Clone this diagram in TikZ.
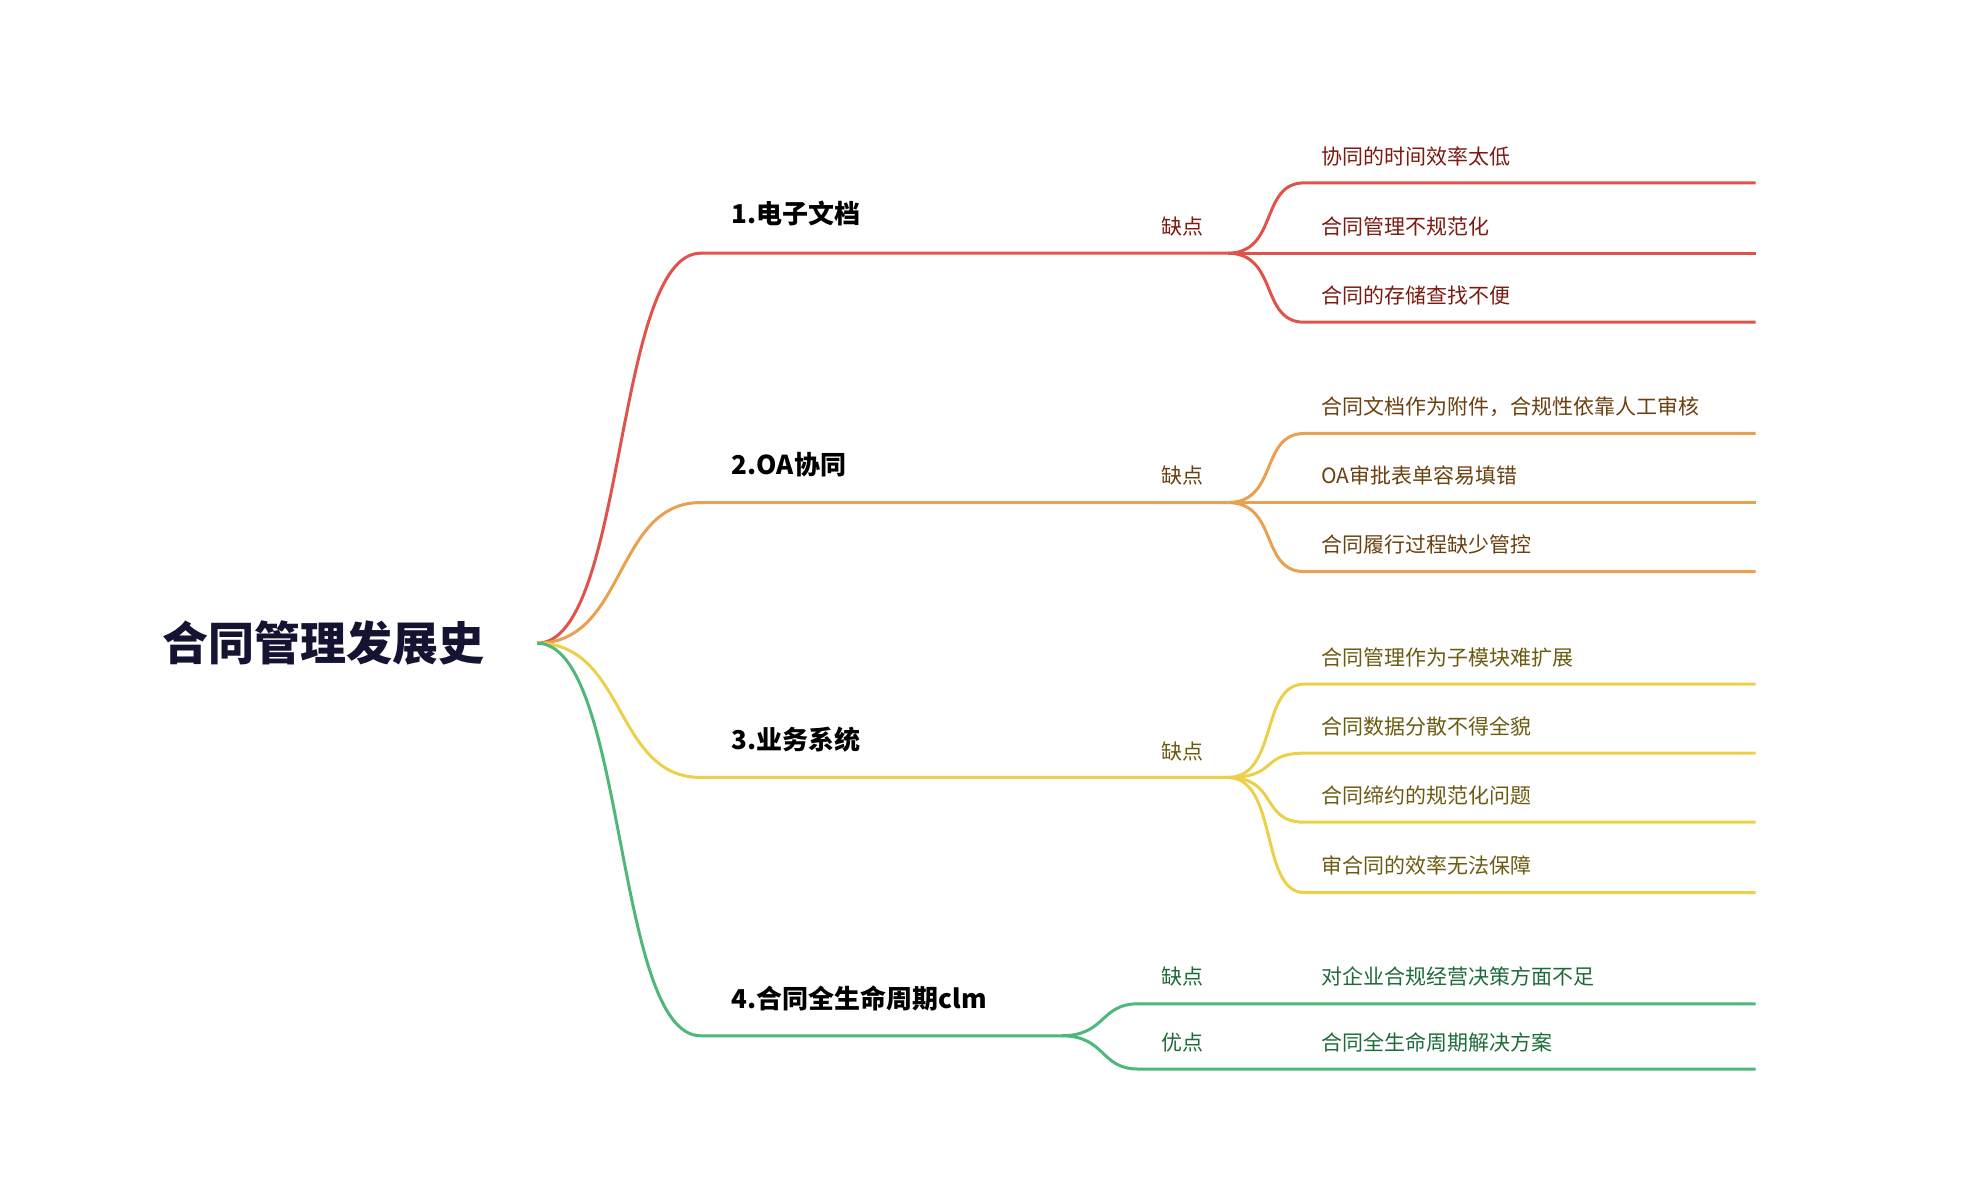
\documentclass[tikz,border=0pt]{standalone}
\usepackage{fontspec}
\setmainfont{Noto Sans CJK SC}
\begin{document}
\begin{tikzpicture}[x=0.64pt,y=-0.64pt,line width=1.5pt,
 lbl/.style={anchor=west,font=\fontsize{13}{13}\selectfont\bfseries,text=black},
 kd/.style={font=\fontsize{10.5}{10.5}\selectfont},
 lf/.style={anchor=west,font=\fontsize{10.5}{10.5}\selectfont}]
\useasboundingbox (0,0) rectangle (1550,938);
\definecolor{cR}{HTML}{E0534A}\definecolor{cO}{HTML}{E9A050}
\definecolor{cY}{HTML}{EDD04A}\definecolor{cG}{HTML}{4DB87A}
\definecolor{tR}{HTML}{7A1A10}\definecolor{tO}{HTML}{6B4010}
\definecolor{tY}{HTML}{6B5A10}\definecolor{tG}{HTML}{1E6B3A}
\node[font=\fontsize{23}{23}\selectfont\bfseries,text={rgb,255:red,20;green,20;blue,50}] (root) at (253,503) {合同管理发展史};
\coordinate (r) at (420,503);
% branches
\foreach \y/\c/\n in {198/cR/a,393/cO/b,608/cY/c}{
 \coordinate (\n s) at (548,\y); \coordinate (\n e) at (960,\y);
 \draw[\c] (r) .. controls (490,503) and (480,\y) .. (\n s) -- (\n e);}
\coordinate (ds) at (548,810); \coordinate (de) at (830,810);
\draw[cG] (r) .. controls (490,503) and (480,810) .. (ds) -- (de);
\node[lbl] (la) at (566,167) {1.电子文档};
\node[lbl] (lb) at (566,363) {2.OA协同};
\node[lbl] (lc) at (566,578) {3.业务系统};
\node[lbl] (ld) at (566,781) {4.合同全生命周期clm};
\node[kd,text=tR] (ka) at (925,177) {缺点};
\node[kd,text=tO] (kb) at (925,372) {缺点};
\node[kd,text=tY] (kc) at (925,588) {缺点};
\node[kd,text=tG] (kd1) at (925,764) {缺点};
\node[kd,text=tG] (kd2) at (925,815) {优点};
% leaves
\foreach \n/\c/\t/\ys in {a/cR/tR/{143/122/协同的时间效率太低,198/177/合同管理不规范化,252/231/合同的存储查找不便},
 b/cO/tO/{339/318/合同文档作为附件，合规性依靠人工审核,393/372/OA审批表单容易填错,447/426/合同履行过程缺少管控},
 c/cY/tY/{535/514/合同管理作为子模块难扩展,589/568/合同数据分散不得全貌,643/622/合同缔约的规范化问题,698/677/审合同的效率无法保障}}{
 \foreach \yy/\ty/\txt in \ys {
  \coordinate (p) at (1020,\yy); \coordinate (q) at (1373,\yy);
  \draw[\c] (\n e) .. controls +(40,0) and (985,\yy) .. (p) -- (q);
  \node[lf,text=\t] at (1027,\ty) {\txt};}}
\coordinate (g1) at (890,785); \coordinate (g1e) at (1373,785);
\coordinate (g2) at (890,836); \coordinate (g2e) at (1373,836);
\draw[cG] (de) .. controls (865,810) and (860,785) .. (g1) -- (g1e);
\draw[cG] (de) .. controls (865,810) and (860,836) .. (g2) -- (g2e);
\node[lf,text=tG] (t1) at (1027,764) {对企业合规经营决策方面不足};
\node[lf,text=tG] (t2) at (1027,815) {合同全生命周期解决方案};
\end{tikzpicture}
\end{document}
